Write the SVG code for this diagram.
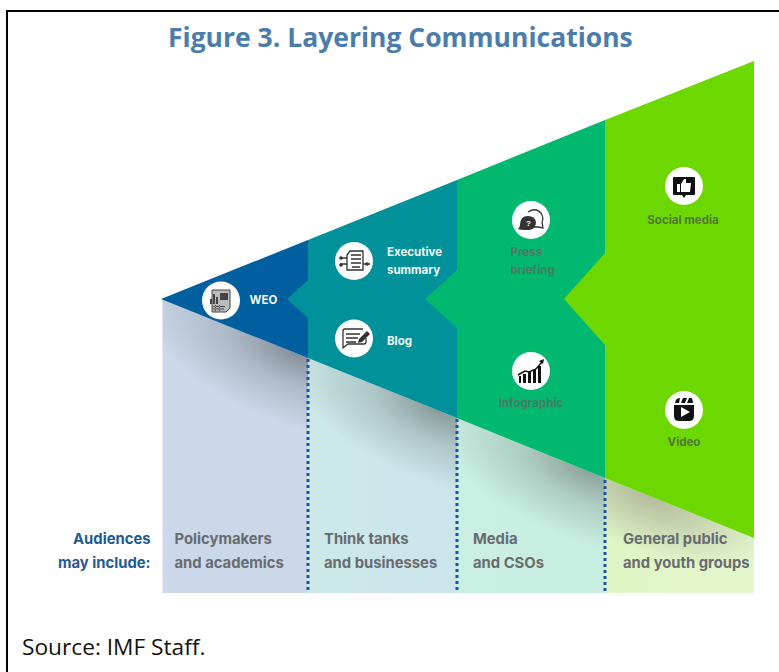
<svg xmlns="http://www.w3.org/2000/svg" width="779" height="672" viewBox="0 0 779 672">
<style>
.t{font-family:Inter,"Liberation Sans",sans-serif;font-weight:700;font-size:11.5px}
.w{fill:#f1f7f5}.g{fill:#4a7a66}.l{fill:#4f7a33}
.a{font-family:Inter,"Liberation Sans",sans-serif;font-weight:700;font-size:14.800px;fill:#686b70}
.b{fill:#1f5a96;text-anchor:end}
.c{fill:#fff}.i{fill:#333}.s{fill:none;stroke:#333;stroke-width:1.3}
.d{fill:none;stroke:#17579b;stroke-width:3;stroke-dasharray:3 3}
</style>
<defs>
<radialGradient id="s1" gradientUnits="userSpaceOnUse" cx="0" cy="0" r="1" gradientTransform="translate(296 352) rotate(21.8) scale(165 72)"><stop offset="0" stop-color="#7a838e" stop-opacity=".85"/><stop offset=".45" stop-color="#7a838e" stop-opacity=".35"/><stop offset="1" stop-color="#7a838e" stop-opacity="0"/></radialGradient>
<radialGradient id="s2" gradientUnits="userSpaceOnUse" cx="0" cy="0" r="1" gradientTransform="translate(440 410) rotate(21.8) scale(165 72)"><stop offset="0" stop-color="#7c8d8b" stop-opacity=".85"/><stop offset=".45" stop-color="#7c8d8b" stop-opacity=".35"/><stop offset="1" stop-color="#7c8d8b" stop-opacity="0"/></radialGradient>
<radialGradient id="s3" gradientUnits="userSpaceOnUse" cx="0" cy="0" r="1" gradientTransform="translate(590 470) rotate(21.8) scale(165 72)"><stop offset="0" stop-color="#80938b" stop-opacity=".85"/><stop offset=".45" stop-color="#80938b" stop-opacity=".35"/><stop offset="1" stop-color="#80938b" stop-opacity="0"/></radialGradient>
<radialGradient id="s4" gradientUnits="userSpaceOnUse" cx="0" cy="0" r="1" gradientTransform="translate(650 494) rotate(21.8) scale(130 58)"><stop offset="0" stop-color="#a3a68f" stop-opacity=".75"/><stop offset="1" stop-color="#a3a68f" stop-opacity="0"/></radialGradient>
<linearGradient id="p2" x1="0" x2="1" y1="0" y2="0"><stop offset="0" stop-color="#cce9e8"/><stop offset="1" stop-color="#cbe5ec"/></linearGradient>
<linearGradient id="p3" x1="0" x2="1" y1="0" y2="0"><stop offset="0" stop-color="#c9f0e2"/><stop offset="1" stop-color="#c8eee2"/></linearGradient>
<linearGradient id="p4" x1="0" x2="1" y1="0" y2="0"><stop offset="0" stop-color="#dff5c6"/><stop offset="1" stop-color="#e3f6cb"/></linearGradient>
</defs>
<rect width="779" height="672" fill="#fff"/>
<path d="M7 672V11H779" fill="none" stroke="#000" stroke-width="2"/>
<text x="168" y="47" font-family="'Open Sans','Noto Sans',sans-serif" font-weight="700" font-size="26.5" fill="#4a7dab">Figure 3. Layering Communications</text>
<g id="audience-bands">
<rect x="162.500" y="299" width="145.500" height="294" fill="#cad8e9"/>
<rect x="308" y="358" width="149" height="235" fill="url(#p2)"/>
<rect x="457" y="418" width="148" height="175" fill="url(#p3)"/>
<rect x="605" y="478" width="149" height="115" fill="url(#p4)"/>
<path d="M162.500 299L308 358V593H162.500Z" fill="url(#s1)"/>
<path d="M308 358L457 418V593H308Z" fill="url(#s2)"/>
<path d="M457 418L605 478V593H457Z" fill="url(#s3)"/>
<path d="M605 478L754 538V593H605Z" fill="url(#s4)"/>
</g>
<g id="layers">
<path d="M161 299L308 240V358Z" fill="#005f9e"/>
<path d="M308 240L457 180V418L308 358V318L287 299L308 280Z" fill="#00919b"/>
<path d="M457 180L605 120V478L457 418V328L425 299L457 270Z" fill="#00b86f"/>
<path d="M605 120L754 61V538L605 478V345L564 299L605 253Z" fill="#6dd800"/>
</g>
<g id="connectors">
<path class="d" d="M308 359V593"/>
<path class="d" d="M457 419V593"/>
<path class="d" d="M605 480V593"/>
</g>
<g id="node-weo">
<circle class="c" cx="221" cy="300.500" r="19"/>
<path d="M212 290h18v18l-4 4h-14z" fill="#bbb" stroke="#444" stroke-width="1"/>
<path fill="#444" d="M210 304v-5h2v5zM213 304v-10h2v10zM216 304v-7h2v7zM220 293h8v7h-8zM213 306h12v1h-12zM213 308.500h11v1h-11zM215 305v6h1v-6zM219 305v6h1v-6z"/>
<text class="t w" x="249.500" y="304">WEO</text>
</g>
<g id="node-executive-summary">
<circle class="c" cx="354" cy="261" r="19"/>
<path class="s" d="M350 251h13v19h-16v-15z"/>
<path class="s" d="M351 255h10M351 259h10M351 263h10M340 258h7M340 264h7M363 264h7M352 267h8"/>
<circle class="i" cx="341" cy="258" r="1.800"/><circle class="i" cx="341" cy="265" r="1.800"/><circle class="i" cx="367" cy="264" r="1.800"/>
<text class="t w" x="387" y="256">Executive</text>
<text class="t w" x="387" y="274">summary</text>
</g>
<g id="node-blog">
<circle class="c" cx="354" cy="338.500" r="19"/>
<path class="s" d="M345 329h18M345 329q-2 0-2 2v17l5-4h16q2 0 2-2v-4"/>
<path class="s" d="M346 334h14M346 338h12M346 342h10"/>
<path class="i" d="M358 343l1-4 8-8 3 3-8 8z"/>
<text class="t w" x="387" y="345">Blog</text>
</g>
<g id="node-press-briefing">
<circle class="c" cx="531" cy="220" r="19"/>
<path class="i" d="M518 229q2-2 2-4 0-9 8-9 7 0 8 6 0 7-7 8h-5q-3 0-6-1z"/>
<path class="s" d="M528 212q8-5 13 1 3 5 1 9l1 6-5-1h-4"/>
<text x="528.500" y="226" font-family="'Liberation Sans',sans-serif" font-size="8" font-weight="700" fill="#fff" text-anchor="middle">?</text>
<text class="t g" x="510.500" y="256">Press</text>
<text class="t g" x="510.500" y="274">briefing</text>
</g>
<g id="node-social-media">
<circle class="c" cx="684" cy="186" r="19"/>
<path fill="#111" d="M674 177h20q1 0 1 1v16q0 1-1 1h-8l-2 3-2-3h-8q-1 0-1-1v-16q0-1 1-1z"/>
<path fill="#fff" d="M677 184h3v8h-3zM681 184l3-5h2v4h5l-1 9h-9z"/>
<text class="t l" x="683" y="224" text-anchor="middle">Social media</text>
</g>
<g id="node-infographic">
<circle class="c" cx="531" cy="371" r="19"/>
<path fill="#111" d="M519 376h2v7h-2zM523 374h3v9h-3zM528 372h3v11h-3zM533 370h3v13h-3zM538 366h3v17h-3z"/>
<path fill="none" stroke="#111" stroke-width="1.500" d="M518 375l7-4 4 1 7-3 6-7"/>
<path fill="#111" d="M539 361l5-2-1 5z"/>
<text class="t g" x="531" y="407" text-anchor="middle">Infographic</text>
</g>
<g id="node-video">
<circle class="c" cx="684" cy="410" r="19"/>
<path fill="#111" d="M674 405h20v11q0 5-5 5h-10q-5 0-5-5z"/>
<path fill="#111" d="M675 403l1-3q1-2 4-2l-1 5zM681 403l2-5h4l-2 5zM687 403l2-5 3 0 1 5z"/>
<path fill="#fff" d="M681 407l9 5-9 5z"/>
<text class="t l" x="684" y="446" text-anchor="middle">Video</text>
</g>
<g id="audience-labels">
<text class="a b" x="150.500" y="544">Audiences</text>
<text class="a b" x="150.500" y="568">may include:</text>
<text class="a" x="174.500" y="544">Policymakers</text>
<text class="a" x="174.500" y="568">and academics</text>
<text class="a" x="324" y="544">Think tanks</text>
<text class="a" x="324" y="568">and businesses</text>
<text class="a" x="473" y="544">Media</text>
<text class="a" x="473" y="568">and CSOs</text>
<text class="a" x="623" y="544">General public</text>
<text class="a" x="623" y="568">and youth groups</text>
</g>
<text x="22" y="655" font-family="'Open Sans','Noto Sans',sans-serif" font-size="22.700" fill="#111">Source: IMF Staff.</text>
</svg>
